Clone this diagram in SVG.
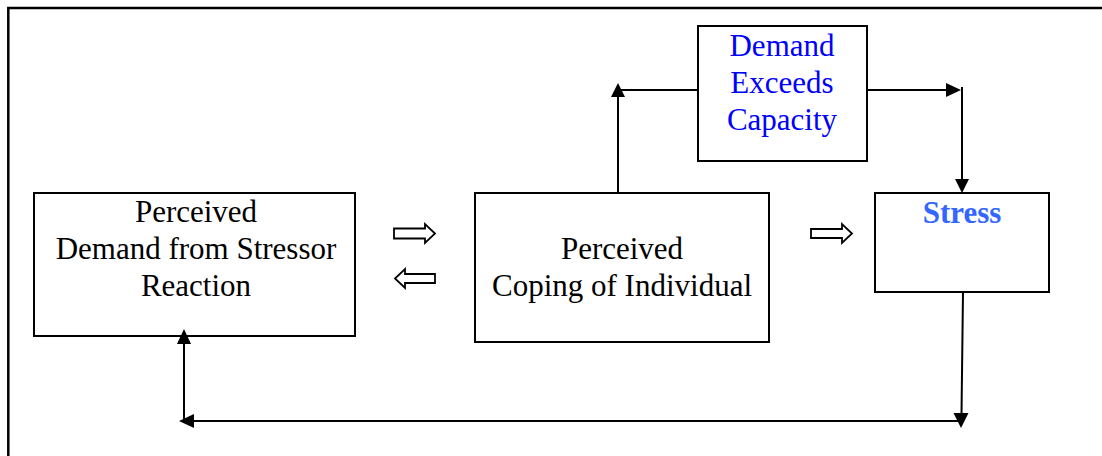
<svg xmlns="http://www.w3.org/2000/svg" width="1102" height="456" viewBox="0 0 1102 456">
  <defs>
    <style>
      .box { fill: #fff; stroke: #000; stroke-width: 2; }
      .lbl { font-family: "Liberation Serif", "Times New Roman", serif; font-size: 31px; text-anchor: middle; fill: #000; }
      .blue { fill: #0000ff; }
      .stress { fill: #3366ff; font-weight: bold; }
      .wire { fill: none; stroke: #000; stroke-width: 2; }
      .head { fill: #000; stroke: none; }
      .block { fill: #fff; stroke: #000; stroke-width: 1.8; stroke-linejoin: miter; }
    </style>
  </defs>

  <rect width="1102" height="456" fill="#fff"/>
  <!-- page frame (only top and left edges fall inside the view) -->
  <path d="M8.3,456 V8 H1102" fill="none" stroke="#000" stroke-width="2.5"/>

  <g id="node-perceived-demand">
    <rect class="box" x="34" y="193" width="321" height="143"/>
    <text class="lbl" x="196" y="222">Perceived</text>
    <text class="lbl" x="196" y="259">Demand from Stressor</text>
    <text class="lbl" x="196" y="296">Reaction</text>
  </g>

  <g id="node-perceived-coping">
    <rect class="box" x="475" y="193" width="294" height="149"/>
    <text class="lbl" x="622" y="259">Perceived</text>
    <text class="lbl" x="622" y="296">Coping of Individual</text>
  </g>

  <g id="node-demand-exceeds">
    <rect class="box" x="698" y="26" width="169" height="135"/>
    <text class="lbl blue" x="782" y="56">Demand</text>
    <text class="lbl blue" x="782" y="93">Exceeds</text>
    <text class="lbl blue" x="782" y="130">Capacity</text>
  </g>

  <g id="node-stress">
    <rect class="box" x="875" y="193" width="174" height="99"/>
    <text class="lbl stress" x="962" y="223">Stress</text>
  </g>

  <g id="connectors">
    <!-- coping up to demand-exceeds -->
    <path class="wire" d="M618,192 V95 M618,90 H698"/>
    <polygon class="head" points="618,83 611,97 625,97"/>
    <!-- demand-exceeds across and down to stress -->
    <path class="wire" d="M867,90 H947"/>
    <polygon class="head" points="961,90 946,83 946,97"/>
    <path class="wire" d="M962,87 V181"/>
    <polygon class="head" points="962,193 955,179 969,179"/>
    <!-- stress down, along the bottom, and up to perceived demand -->
    <path class="wire" d="M963,292 L961.5,414"/>
    <polygon class="head" points="961,428 953.5,413 968.5,413"/>
    <path class="wire" d="M961,421 H193"/>
    <polygon class="head" points="179,421 194,414 194,428"/>
    <path class="wire" d="M184,421 V343"/>
    <polygon class="head" points="184,329 177,344 191,344"/>

    <!-- hollow block arrows between the lower boxes -->
    <polygon class="block" points="394,228.5 425,228.5 425,224 435,233.5 425,243 425,238.5 394,238.5"/>
    <polygon class="block" points="435,274 405,274 405,269 395,278.5 405,288 405,283 435,283"/>
    <polygon class="block" points="811,229 842,229 842,224 852,233.5 842,243 842,238 811,238"/>
  </g>
</svg>
